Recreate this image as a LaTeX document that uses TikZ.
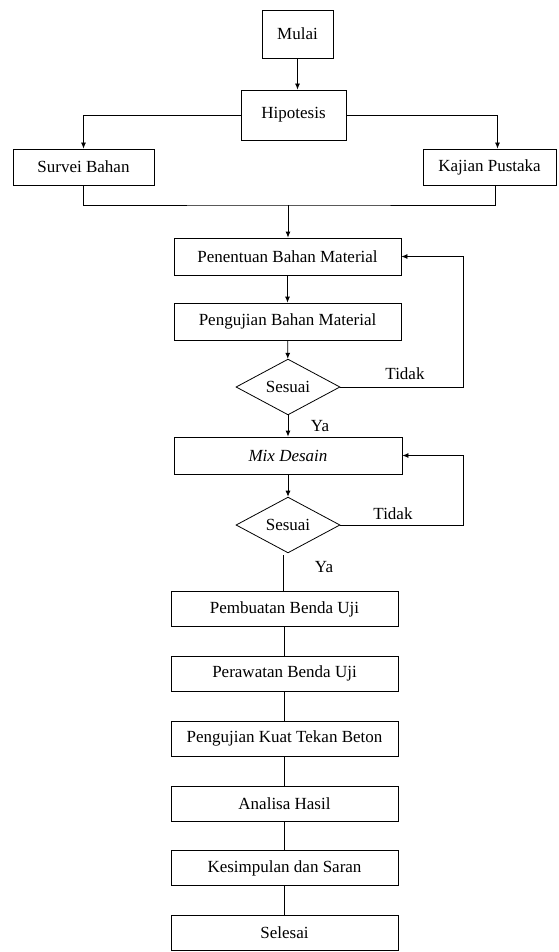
\documentclass[tikz,border=0pt]{standalone}
\usepackage{fontspec}
\setmainfont{Liberation Serif}
\usetikzlibrary{shapes.geometric,arrows.meta}

\tikzset{
    proses/.style={draw, rectangle, inner sep=0pt, align=center},
    cek/.style={draw, diamond, inner sep=0pt, minimum width=104pt, minimum height=54pt},
    panah/.style={-{Latex[length=6pt,width=5pt]}},
    label/.style={inner sep=1pt}
}

\begin{document}
\begin{tikzpicture}[x=1pt, y=-1pt, line width=0.8pt, font=\fontsize{17}{20}\selectfont]

    % Frame
    \useasboundingbox (0,0) rectangle (558,952);

    % Start
    \node[proses, minimum width=71pt, minimum height=48pt] (mulai) at (297.5,34) {Mulai};
    \node[proses, minimum width=105pt, minimum height=50pt] (hipotesis) at (293.5,115) {Hipotesis};

    % Two branches
    \node[proses, minimum width=141pt, minimum height=36pt] (survei) at (83.5,167) {Survei Bahan};
    \node[proses, minimum width=133pt, minimum height=36pt] (kajian) at (489.5,167) {Kajian Pustaka};

    % Material
    \node[proses, minimum width=227pt, minimum height=37pt] (penentuan) at (287.5,256.5) {Penentuan Bahan Material};
    \node[proses, minimum width=227pt, minimum height=37pt] (pengujian) at (287.5,321.5) {Pengujian Bahan Material};
    \node[cek] (cek1) at (288,387) {Sesuai};

    % Mix design
    \node[proses, minimum width=228pt, minimum height=37pt] (mix) at (288,455.5) {\itshape Mix Desain};
    \node[cek] (cek2) at (288,525) {Sesuai};

    % Test and result
    \node[proses, minimum width=227pt, minimum height=35pt] (pembuatan) at (284.5,609) {Pembuatan Benda Uji};
    \node[proses, minimum width=227pt, minimum height=35pt] (perawatan) at (284.5,673.8) {Perawatan Benda Uji};
    \node[proses, minimum width=227pt, minimum height=35pt] (kuattekan) at (284.5,738.6) {Pengujian Kuat Tekan Beton};
    \node[proses, minimum width=227pt, minimum height=35pt] (analisa) at (284.5,803.4) {Analisa Hasil};
    \node[proses, minimum width=227pt, minimum height=35pt] (kesimpulan) at (284.5,868.2) {Kesimpulan dan Saran};
    \node[proses, minimum width=227pt, minimum height=35pt] (selesai) at (284.5,933) {Selesai};

    % Labels
    \node[label] (tidak1) at (405,374) {Tidak};
    \node[label] (ya1) at (320,426) {Ya};
    \node[label] (tidak2) at (393,514) {Tidak};
    \node[label] (ya2) at (324,567) {Ya};

    % Helper points
    \coordinate (gabung) at (288,205);
    \coordinate (lanjut) at (283,555);

    % Arrows
    \draw[panah] (mulai.south) -- (mulai.south |- hipotesis.north);
    \draw[panah] (hipotesis.west) -| (survei.north);
    \draw[panah] (hipotesis.east) -| ([xshift=8pt]kajian.north);
    \draw (survei.south) |- (gabung) -| ([xshift=5.5pt]kajian.south);
    \draw[panah] (gabung) -- (gabung |- penentuan.north);
    \draw[panah] (penentuan) -- (pengujian);
    \draw[panah] (pengujian) -- (cek1);
    \draw[panah] (cek1.east) -- ++(123pt,0) |- (penentuan.east);
    \draw[panah] (cek1) -- (mix);
    \draw[panah] (mix) -- (cek2);
    \draw[panah] (cek2.east) -- ++(123pt,0) |- (mix.east);
    \draw (lanjut) -- (lanjut |- pembuatan.north);

    % Straight lines below
    \foreach \a/\b in {pembuatan/perawatan, perawatan/kuattekan, kuattekan/analisa, analisa/kesimpulan, kesimpulan/selesai}
        \draw (\a) -- (\b);

\end{tikzpicture}
\end{document}
